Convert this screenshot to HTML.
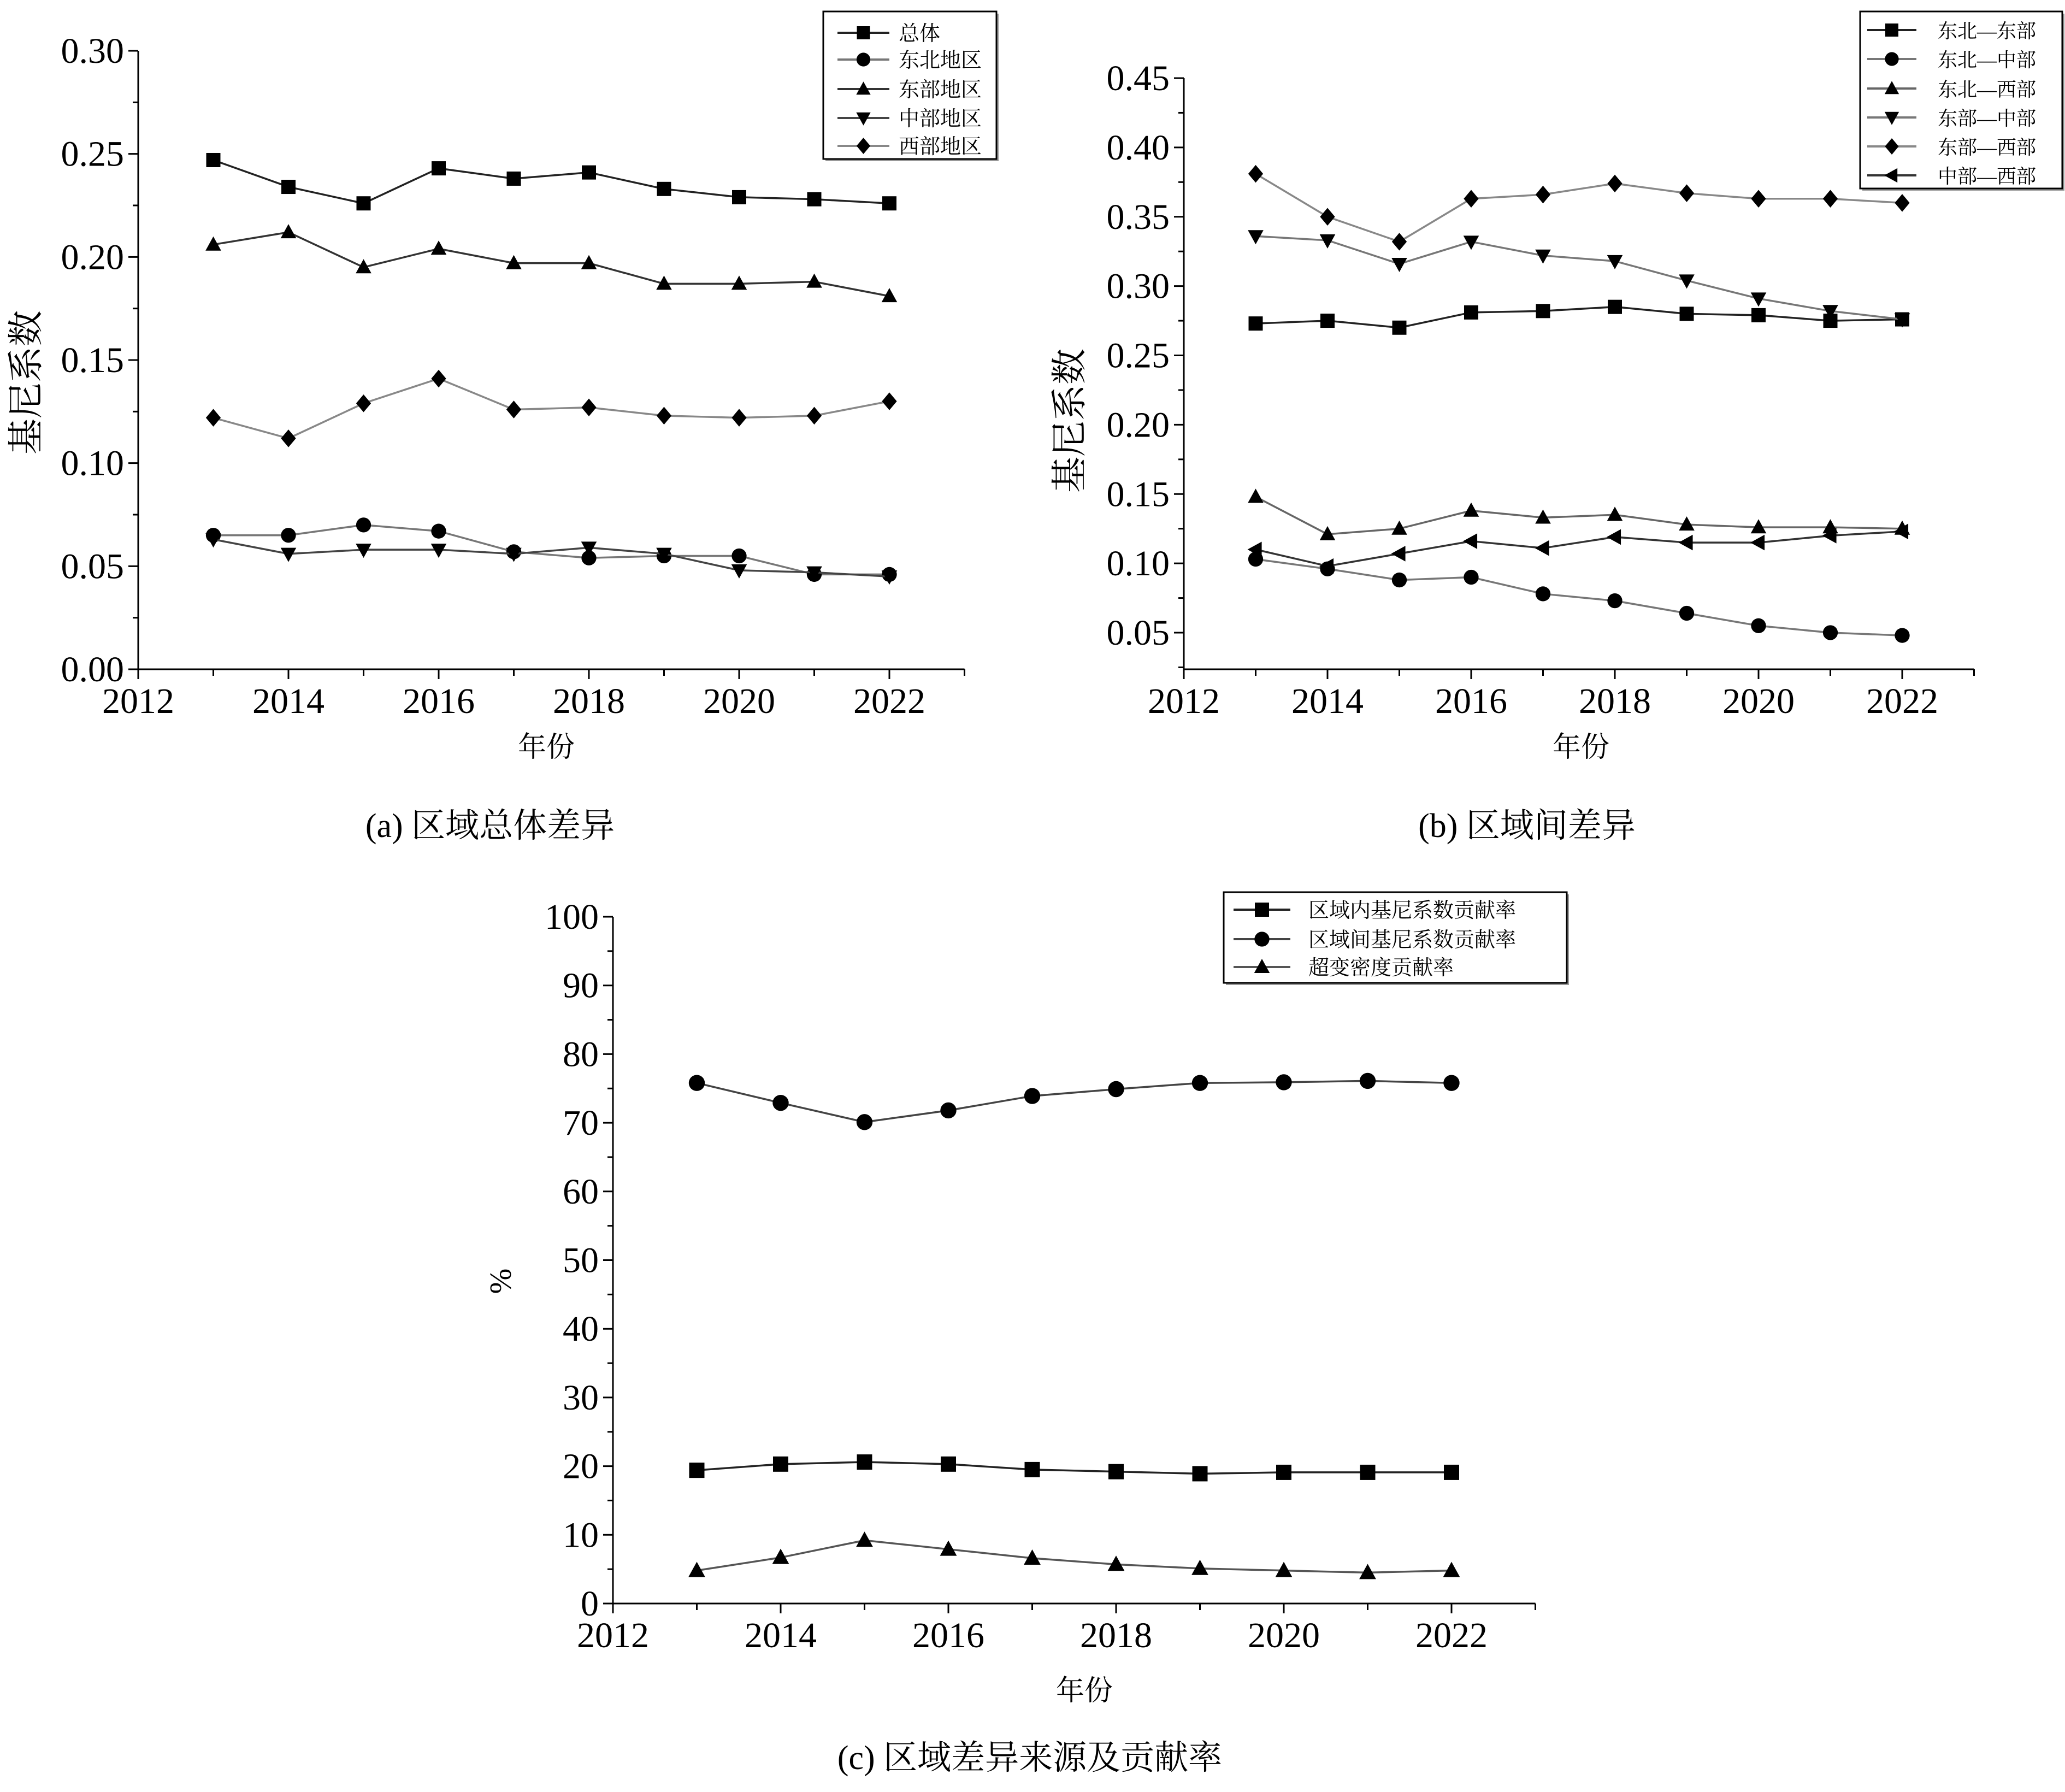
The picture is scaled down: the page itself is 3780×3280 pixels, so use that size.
<!DOCTYPE html>
<html><head><meta charset="utf-8">
<style>
html,body{margin:0;padding:0;background:#fff;}
svg{display:block;}
.tick{font-family:"Liberation Serif",serif;font-size:66px;fill:#000;}
.cjk{font-family:"Liberation Serif","Noto Serif CJK SC",serif;fill:#000;}
</style></head>
<body>
<svg id="root" width="3780" height="3280" viewBox="0 0 3780 3280" xmlns="http://www.w3.org/2000/svg"></svg>
<script>
const years = [2013,2014,2015,2016,2017,2018,2019,2020,2021,2022];
const xTicks = [2012,2014,2016,2018,2020,2022];

const aNames = ["总体","东北地区","东部地区","中部地区","西部地区"];
const aTotal = [0.247,0.234,0.226,0.243,0.238,0.241,0.233,0.229,0.228,0.226];
const aNE = [0.065,0.065,0.070,0.067,0.057,0.054,0.055,0.055,0.046,0.046];
const aE = [0.206,0.212,0.195,0.204,0.197,0.197,0.187,0.187,0.188,0.181];
const aC = [0.063,0.056,0.058,0.058,0.056,0.059,0.056,0.048,0.047,0.045];
const aW = [0.122,0.112,0.129,0.141,0.126,0.127,0.123,0.122,0.123,0.130];
const aYTicks = ["0.00","0.05","0.10","0.15","0.20","0.25","0.30"];

const bNames = ["东北—东部","东北—中部","东北—西部","东部—中部","东部—西部","中部—西部"];
const bNE_E = [0.273,0.275,0.270,0.281,0.282,0.285,0.280,0.279,0.275,0.276];
const bNE_C = [0.103,0.096,0.088,0.090,0.078,0.073,0.064,0.055,0.050,0.048];
const bNE_W = [0.148,0.121,0.125,0.138,0.133,0.135,0.128,0.126,0.126,0.125];
const bE_C = [0.336,0.333,0.316,0.332,0.322,0.318,0.304,0.291,0.282,0.276];
const bE_W = [0.381,0.350,0.332,0.363,0.366,0.374,0.367,0.363,0.363,0.360];
const bC_W = [0.110,0.098,0.107,0.116,0.111,0.119,0.115,0.115,0.120,0.123];
const bYTicks = ["0.05","0.10","0.15","0.20","0.25","0.30","0.35","0.40","0.45"];

const cNames = ["区域内基尼系数贡献率","区域间基尼系数贡献率","超变密度贡献率"];
const cWithin = [19.4,20.3,20.6,20.3,19.5,19.2,18.9,19.1,19.1,19.1];
const cBetween = [75.8,72.9,70.1,71.8,73.9,74.9,75.8,75.9,76.1,75.8];
const cTrans = [4.8,6.7,9.2,7.9,6.6,5.7,5.1,4.8,4.5,4.8];
const cYTicks = ["0","10","20","30","40","50","60","70","80","90","100"];

const NS="http://www.w3.org/2000/svg";
const root=document.getElementById('root');
function mk(tag,attrs,parent){const e=document.createElementNS(NS,tag);for(const k in attrs)e.setAttribute(k,attrs[k]);(parent||root).appendChild(e);return e;}

function marker(g,type,x,y,s){
  let e;
  const h=s/2;
  if(type==='square') e=mk('rect',{x:x-h,y:y-h,width:s,height:s,fill:'#000'},g);
  else if(type==='circle') e=mk('circle',{cx:x,cy:y,r:h*1.05,fill:'#000'},g);
  else if(type==='up') e=mk('polygon',{points:`${x},${y-h*1.15} ${x+h*1.1},${y+h*0.85} ${x-h*1.1},${y+h*0.85}`,fill:'#000'},g);
  else if(type==='down') e=mk('polygon',{points:`${x},${y+h*1.15} ${x+h*1.1},${y-h*0.85} ${x-h*1.1},${y-h*0.85}`,fill:'#000'},g);
  else if(type==='diamond') e=mk('polygon',{points:`${x},${y-h*1.25} ${x+h*1.05},${y} ${x},${y+h*1.25} ${x-h*1.05},${y}`,fill:'#000'},g);
  else if(type==='left') e=mk('polygon',{points:`${x-h*1.15},${y} ${x+h*0.85},${y-h*1.1} ${x+h*0.85},${y+h*1.1}`,fill:'#000'},g);
  return e;
}

function chart(cfg){
  const g=mk('g',{});
  
  
  const X=v=>cfg.x0+(v-2012)*cfg.px;
  const Y=v=>cfg.y0+(v-cfg.v0)*(cfg.y1-cfg.y0)/(cfg.v1-cfg.v0);
  const xEnd=X(2023);
  const yBottom=Y(cfg.vmin);
  const yTop=Y(cfg.vmax);
  const ya=mk('line',{x1:cfg.x0,y1:yTop,x2:cfg.x0,y2:yBottom,stroke:'#000','stroke-width':3},g);
  
  const xa=mk('line',{x1:cfg.x0,y1:yBottom,x2:xEnd,y2:yBottom,stroke:'#000','stroke-width':3},g);
  
  cfg.yTicks.forEach(t=>{
    const v=parseFloat(t), y=Y(v);
    mk('line',{x1:cfg.x0-18,y1:y,x2:cfg.x0,y2:y,stroke:'#000','stroke-width':3},g);
    const tx=mk('text',{x:cfg.x0-26,y:y+22,'text-anchor':'end',class:'tick'},g);
    tx.textContent=t;
    
    const m=v+cfg.minor;
    if(m<cfg.vmax+1e-9){const ym=Y(m);mk('line',{x1:cfg.x0-10,y1:ym,x2:cfg.x0,y2:ym,stroke:'#000','stroke-width':3},g);}
    const mb=v-cfg.minor;
    if(mb>cfg.vmin-1e-9 && t===cfg.yTicks[0]){const ym=Y(mb);mk('line',{x1:cfg.x0-10,y1:ym,x2:cfg.x0,y2:ym,stroke:'#000','stroke-width':3},g);}
  });
  for(let yr=2012;yr<=2023;yr++){
    const maj=xTicks.includes(yr);
    mk('line',{x1:X(yr),y1:yBottom,x2:X(yr),y2:yBottom+(maj?18:12),stroke:'#000','stroke-width':3},g);
  }
  xTicks.forEach(yr=>{
    const t=mk('text',{x:X(yr),y:yBottom+80,'text-anchor':'middle',class:'tick'},g);
    t.textContent=yr;
    
  });
  const xt=mk('text',{x:cfg.xlab[0],y:cfg.xlab[1],'text-anchor':'middle',class:'cjk','font-size':52},g);
  xt.textContent='年份';
  
  const yt=mk('text',{x:0,y:0,'text-anchor':'middle',class:'cjk','font-size':cfg.ylabSize,transform:`translate(${cfg.ylab[0]},${cfg.ylab[1]}) rotate(-90)`},g);
  yt.textContent=cfg.ylabText;
  
  const cap=mk('text',{x:cfg.cap[0],y:cfg.cap[1],'text-anchor':'middle',class:'cjk','font-size':62},g);
  cap.textContent=cfg.capText;
  
  cfg.series.forEach((s,i)=>{
    const sg=mk('g',{},g);
    
    
    const pts=s.data.map((v,j)=>X(years[j])+','+Y(v)).join(' ');
    mk('polyline',{points:pts,fill:'none',stroke:s.color,'stroke-width':3.5},sg);
    s.data.forEach((v,j)=>{
      const m=marker(sg,s.m,X(years[j]),Y(v),cfg.ms);
      
      
    });
  });
  const L=cfg.legend;
  const lg=mk('g',{},g);
  
  mk('rect',{x:L.x+4,y:L.y+4,width:L.w,height:L.h,fill:'#999'},lg);
  mk('rect',{x:L.x,y:L.y,width:L.w,height:L.h,fill:'#fff',stroke:'#000','stroke-width':3},lg);
  cfg.series.forEach((s,i)=>{
    const ey=L.rows[i];
    const eg=mk('g',{},lg);
    
    mk('line',{x1:L.lx1,y1:ey,x2:L.lx2,y2:ey,stroke:s.color,'stroke-width':4},eg);
    marker(eg,s.m,(L.lx1+L.lx2)/2,ey,L.ms);
    const t=mk('text',{x:L.tx,y:ey+14,class:'cjk','font-size':L.fs},eg);
    t.textContent=s.name;
  });
}

chart({name:'chart-a-overall',x0:253,px:137.5,v0:0,v1:0.30,y0:1225,y1:93,vmin:0,vmax:0.30,minor:0.025,
  yTicks:aYTicks,ms:26,xlab:[1000,1385],ylab:[70,700],ylabText:'基尼系数',ylabSize:66,cap:[897,1532],capText:'(a) 区域总体差异',
  series:[{name:aNames[0],data:aTotal,m:'square',color:'#222'},{name:aNames[1],data:aNE,m:'circle',color:'#777'},
    {name:aNames[2],data:aE,m:'up',color:'#333'},{name:aNames[3],data:aC,m:'down',color:'#444'},{name:aNames[4],data:aW,m:'diamond',color:'#888'}],
  legend:{x:1507,y:21,w:317,h:270,rows:[60,109,163,216,267],lx1:1533,lx2:1628,tx:1645,fs:38,ms:24}});

chart({name:'chart-b-between',x0:2167,px:131.5,v0:0.05,v1:0.45,y0:1158,y1:143,vmin:0.0236,vmax:0.45,minor:0.025,
  yTicks:bYTicks,ms:26,xlab:[2894,1385],ylab:[1980,770],ylabText:'基尼系数',ylabSize:66,cap:[2795,1532],capText:'(b) 区域间差异',
  series:[{name:bNames[0],data:bNE_E,m:'square',color:'#222'},{name:bNames[1],data:bNE_C,m:'circle',color:'#777'},
    {name:bNames[2],data:bNE_W,m:'up',color:'#666'},{name:bNames[3],data:bE_C,m:'down',color:'#777'},
    {name:bNames[4],data:bE_W,m:'diamond',color:'#888'},{name:bNames[5],data:bC_W,m:'left',color:'#333'}],
  legend:{x:3405,y:21,w:370,h:324,rows:[55,108,162,215,268,321],lx1:3418,lx2:3508,tx:3547,fs:36,ms:24}});

chart({name:'chart-c-contribution',x0:1122,px:153.5,v0:0,v1:100,y0:2935,y1:1678,vmin:0,vmax:100,minor:5,
  yTicks:cYTicks,ms:28,xlab:[1985,3112],ylab:[935,2345],ylabText:'%',ylabSize:56,cap:[1885,3238],capText:'(c) 区域差异来源及贡献率',
  series:[{name:cNames[0],data:cWithin,m:'square',color:'#222'},{name:cNames[1],data:cBetween,m:'circle',color:'#444'},
    {name:cNames[2],data:cTrans,m:'up',color:'#555'}],
  legend:{x:2240,y:1633,w:628,h:166,rows:[1665,1719,1770],lx1:2258,lx2:2362,tx:2395,fs:38,ms:26}});
</script>
</body></html>
